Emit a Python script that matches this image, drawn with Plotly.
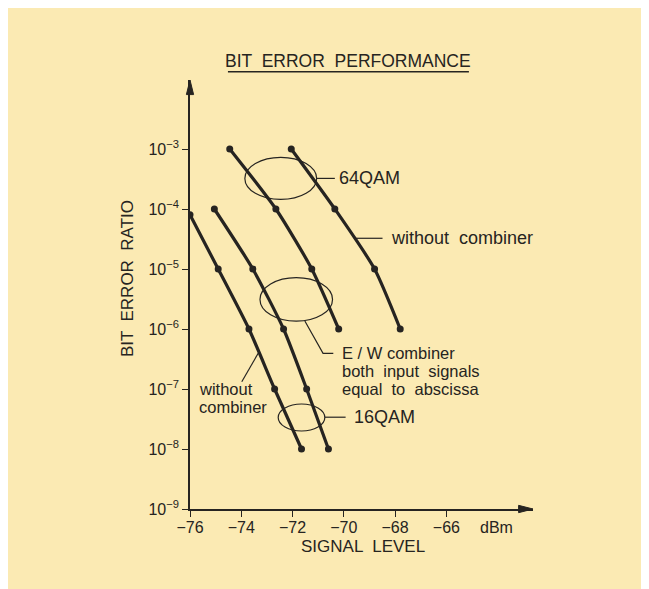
import plotly.graph_objects as go

# signal level (dBm) / bit error ratio
sig_16_wo = [-76.0, -74.9, -73.7, -72.7, -71.65]
ber_16_wo = [8e-5, 1e-5, 1e-6, 1e-7, 1e-8]
sig_16_ew = [-75.05, -73.55, -72.35, -71.45, -70.6]
ber_16_ew = [1e-4, 1e-5, 1e-6, 1e-7, 1e-8]
sig_64_ew = [-74.45, -72.65, -71.25, -70.2]
ber_64_ew = [1e-3, 1e-4, 1e-5, 1e-6]
sig_64_wo = [-72.05, -70.35, -68.8, -67.8]
ber_64_wo = [1e-3, 1e-4, 1e-5, 1e-6]

x_ticks = [-76, -74, -72, -70, -68, -66]
x_labels = ["\u221276", "\u221274", "\u221272", "\u221270", "\u221268", "\u221266"]
y_exps = [-9, -8, -7, -6, -5, -4, -3]
y_ticks = [10.0 ** e for e in y_exps]
y_labels = ["10<sup>\u2212%d</sup>" % -e for e in y_exps]

INK = "#262421"
BG = "#fbeab3"
FONT = "Liberation Sans"

fig = go.Figure()
for xs, ys in [(sig_16_wo, ber_16_wo), (sig_16_ew, ber_16_ew),
               (sig_64_ew, ber_64_ew), (sig_64_wo, ber_64_wo)]:
    fig.add_trace(go.Scatter(
        x=xs, y=ys, mode="lines+markers",
        line=dict(color=INK, width=3.2, shape="spline", smoothing=0.6),
        marker=dict(color=INK, size=7),
        showlegend=False, hoverinfo="skip"))

thin = dict(color=INK, width=1.2)

# ellipses + leader lines, in (dBm, log10 BER) on the hidden linear y2 axis
shapes = [
    dict(type="circle", xref="x", yref="y2", x0=-73.86, x1=-71.06, y0=-3.84, y1=-3.14, line=thin),
    dict(type="line", xref="x", yref="y2", x0=-71.06, x1=-70.35, y0=-3.49, y1=-3.49, line=thin),
    dict(type="circle", xref="x", yref="y2", x0=-73.27, x1=-70.44, y0=-5.87, y1=-5.145, line=thin),
    dict(type="path", xref="x", yref="y2", path="M -71.52,-5.867 L -70.81,-6.405 L -70.41,-6.405", line=thin),
    dict(type="circle", xref="x", yref="y2", x0=-72.56, x1=-70.74, y0=-7.70, y1=-7.25, line=thin),
    dict(type="line", xref="x", yref="y2", x0=-70.74, x1=-69.93, y0=-7.47, y1=-7.47, line=thin),
    dict(type="line", xref="x", yref="y2", x0=-73.98, x1=-73.34, y0=-6.88, y1=-6.405, line=thin),
    dict(type="line", xref="x", yref="y2", x0=-69.53, x1=-68.49, y0=-4.488, y1=-4.488, line=thin),
    # title underline
    dict(type="line", xref="x", yref="paper", x0=-74.52, x1=-65.12, y0=1.0193, y1=1.0193,
         line=dict(color=INK, width=1.6)),
    # axis arrowheads
    dict(type="path", xref="paper", yref="paper", path="M 0,1 L -0.0105,0.966 L 0.0105,0.966 Z",
         fillcolor=INK, line=dict(color=INK, width=1)),
    dict(type="path", xref="paper", yref="paper", path="M 1,0 L 0.958,-0.0085 L 0.958,0.0085 Z",
         fillcolor=INK, line=dict(color=INK, width=1)),
]

def label(text, x, y, size=18, xanchor="left", yref="y2", xref="x", angle=0):
    return dict(text=text, x=x, y=y, xref=xref, yref=yref, showarrow=False,
                xanchor=xanchor, yanchor="middle", textangle=angle,
                font=dict(family=FONT, size=size, color=INK))

annotations = [
    label("64QAM", -70.27, -3.49),
    label("without  combiner", -68.23, -4.488),
    label("E / W combiner", -70.15, -6.40, size=16.5),
    label("both  input  signals", -70.15, -6.695, size=16.5),
    label("equal  to  abscissa", -70.15, -7.0, size=16.5),
    label("16QAM", -69.68, -7.47),
    label("without", -75.73, -7.0, size=16.5),
    label("combiner", -75.73, -7.295, size=16.5),
    label("BIT  ERROR  PERFORMANCE", -69.84, 1.045, size=17.5, xanchor="center", yref="paper"),
    label("SIGNAL  LEVEL", -69.25, -0.088, size=17, xanchor="center", yref="paper"),
    label("dBm", -64.03, -0.043, size=16, xanchor="center", yref="paper"),
    label("BIT  ERROR  RATIO", -0.184, 0.538, size=17, xanchor="center", yref="paper",
          xref="paper", angle=-90),
]

# page body adds an 8px offset, so the figure is 8px smaller and margins shifted
fig.update_layout(
    width=641, height=581,
    margin=dict(l=182, r=116, t=72, b=80),
    paper_bgcolor=BG, plot_bgcolor=BG,
    font=dict(family=FONT, size=16, color=INK),
    xaxis=dict(range=[-76, -62.62], tickvals=x_ticks, ticktext=x_labels,
               showgrid=False, zeroline=False, showline=True, linecolor=INK, linewidth=1.6,
               ticks="outside", ticklen=6, tickwidth=1.4, tickcolor=INK,
               ticklabelstandoff=-3),
    yaxis=dict(type="log", range=[-9, -1.85], tickvals=y_ticks, ticktext=y_labels,
               showgrid=False, zeroline=False, showline=True, linecolor=INK, linewidth=1.6,
               ticks="outside", ticklen=6, tickwidth=1.4, tickcolor=INK),
    yaxis2=dict(overlaying="y", range=[-9, -1.85], visible=False, showgrid=False, zeroline=False),
    shapes=shapes,
    annotations=annotations,
)

fig.write_html("out.html")
